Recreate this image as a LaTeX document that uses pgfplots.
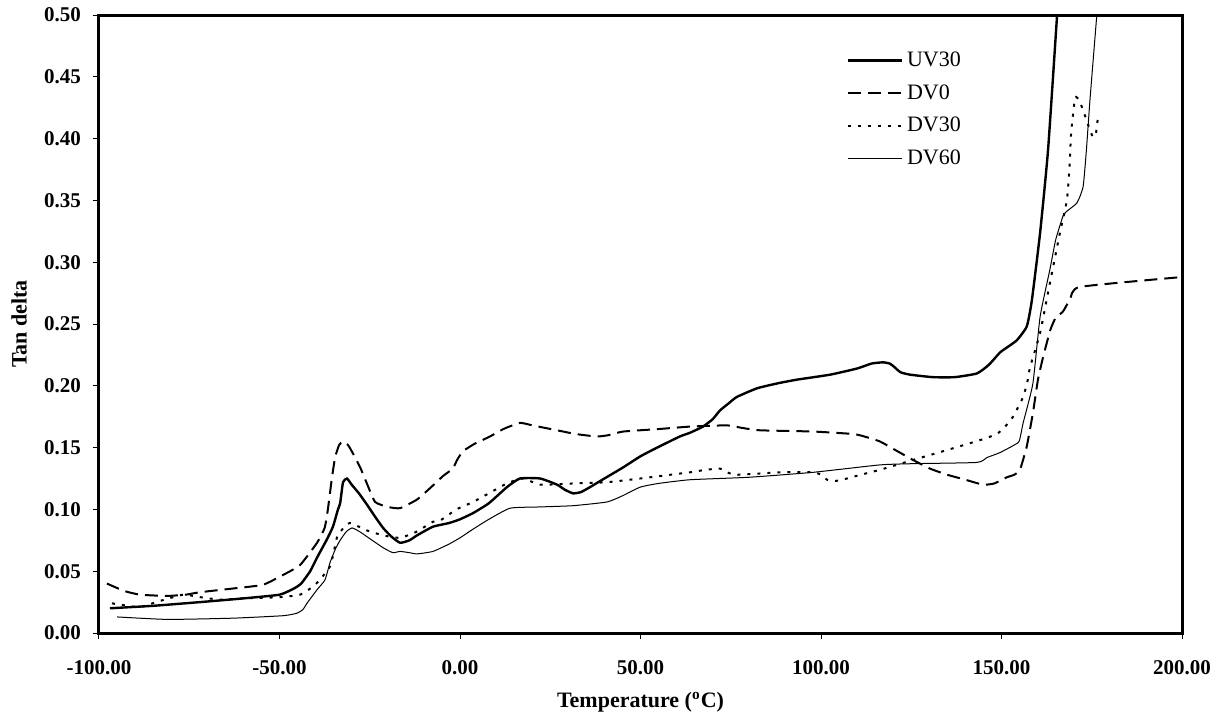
\documentclass[border=0pt]{standalone}
\usepackage{fontspec}
\setmainfont{Liberation Serif}
\usepackage{pgfplots}
\pgfplotsset{compat=1.18}
\begin{document}
\begin{tikzpicture}
\begin{axis}[
  scale only axis,
  width=541.5pt, height=309pt,
  xmin=-100, xmax=200, ymin=0, ymax=0.5,
  axis line style={line width=1.5pt},
  xtick={-100,-50,...,200},
  ytick={0,0.05,...,0.51},
  tick align=outside,
  major tick length=3pt,
  tick style={line width=0.5pt, black},
  xtick pos=bottom, ytick pos=left,
  /pgf/number format/assume math mode=true,
  /pgf/number format/.cd, fixed, fixed zerofill, precision=2, /pgfplots/.cd,
  ticklabel style={font=\fontsize{10.5}{12}\selectfont\bfseries},
  yticklabel style={/pgf/number format/.cd, fixed, fixed zerofill, precision=2, /tikz/xshift=-2.5pt},
  xticklabel style={/pgf/number format/.cd, fixed, fixed zerofill, precision=2, /tikz/yshift=-7pt},
  xlabel={Temperature (\textsuperscript{o}C)},
  ylabel={Tan delta},
  label style={font=\fontsize{11}{13}\selectfont\bfseries},
  xlabel style={at={(axis description cs:0.5,0)}, anchor=center, yshift=-34.5pt},
  ylabel style={at={(axis description cs:0,0.5)}, anchor=center, rotate=0, yshift=40pt},
  legend style={at={(0.69,0.948)}, anchor=north west, draw=none, fill=none,
    font=\fontsize{11}{13}\selectfont, row sep=3.6pt, inner sep=0pt},
  legend cell align=left,
  legend image code/.code={\draw[#1] (0pt,0pt) -- (27pt,0pt);},
]
\addplot[black, line width=1.2pt, smooth, tension=0.3] coordinates {
(-97,0.020)(-85,0.022)(-72,0.025)(-60,0.028)(-50,0.031)(-46,0.036)(-44,0.040)(-41.5,0.050)(-39.6,0.061)(-37,0.075)(-35.2,0.086)(-33.8,0.100)(-33.2,0.105)(-32.4,0.122)(-31.3,0.125)(-30,0.120)(-28,0.113)(-25.8,0.104)(-23.5,0.094)(-21.3,0.085)(-19,0.078)(-16.6,0.073)(-14,0.075)(-11.9,0.079)(-7.5,0.086)(-3,0.089)(0,0.092)(3.6,0.097)(8,0.105)(13,0.118)(16.6,0.125)(22.2,0.125)(26.9,0.120)(29,0.116)(31.3,0.113)(33.5,0.114)(36,0.118)(40,0.125)(45.2,0.134)(50,0.143)(54.6,0.150)(60.9,0.159)(63.7,0.162)(67.3,0.167)(70,0.173)(72,0.180)(74.5,0.186)(76.7,0.191)(82.3,0.198)(88,0.202)(93.4,0.205)(102.5,0.209)(110,0.214)(114,0.218)(117.2,0.219)(119,0.218)(120,0.216)(122,0.211)(124.7,0.209)(131,0.207)(137,0.207)(143.2,0.210)(146.5,0.217)(149.6,0.227)(152,0.232)(154.3,0.237)(157,0.248)(158.4,0.269)(160.7,0.324)(162.9,0.391)(165.4,0.50)
};
\addlegendentry{UV30}
\addplot[black, line width=1pt, dash pattern=on 6.5pt off 3.5pt, smooth, tension=0.3] coordinates {
(-97.8,0.040)(-93,0.034)(-88.6,0.031)(-81.2,0.030)(-76,0.031)(-72,0.033)(-62.9,0.036)(-54.6,0.039)(-49,0.047)(-44.3,0.055)(-39.6,0.073)(-37.5,0.085)(-36.6,0.100)(-35.5,0.125)(-34.6,0.142)(-33.5,0.152)(-32.4,0.155)(-31,0.152)(-29.6,0.145)(-27.5,0.133)(-25.8,0.121)(-23.5,0.106)(-20,0.102)(-16.6,0.101)(-11.9,0.108)(-8,0.118)(-4.7,0.127)(-2,0.133)(-0.8,0.140)(0.8,0.147)(4,0.153)(8.3,0.159)(12,0.165)(16.6,0.170)(20,0.168)(26.9,0.164)(32,0.161)(37.9,0.159)(41,0.160)(45.2,0.163)(55,0.165)(63.7,0.167)(74,0.168)(78,0.166)(83.1,0.164)(97.8,0.163)(108.9,0.161)(112,0.159)(116.3,0.155)(120,0.149)(125.5,0.140)(130.2,0.133)(135,0.128)(140,0.124)(144.9,0.120)(148,0.121)(151.5,0.126)(153.5,0.128)(155.1,0.132)(157,0.151)(158.7,0.178)(160.1,0.205)(161.5,0.223)(163.5,0.245)(165,0.255)(167,0.260)(169,0.270)(171.7,0.280)(200,0.288)
};
\addlegendentry{DV0}
\addplot[black, line width=1pt, dash pattern=on 1.5pt off 3.5pt, smooth, tension=0.3] coordinates {
(-96.4,0.024)(-92,0.022)(-88.6,0.021)(-83,0.026)(-76.7,0.031)(-72,0.029)(-66.5,0.027)(-60,0.028)(-49.9,0.029)(-44.3,0.031)(-41,0.037)(-38.8,0.043)(-36,0.054)(-35,0.065)(-34,0.078)(-32,0.086)(-30.5,0.089)(-28,0.086)(-25.8,0.083)(-21.3,0.079)(-16.6,0.077)(-12,0.082)(-7.5,0.090)(-5.5,0.091)(-1,0.100)(3.6,0.106)(8,0.113)(13,0.121)(17.5,0.125)(22.2,0.120)(31.3,0.121)(40.7,0.122)(49.9,0.125)(60.9,0.129)(63.7,0.130)(68,0.132)(72,0.133)(74,0.130)(76.7,0.128)(88.6,0.130)(97.8,0.130)(100,0.128)(101.7,0.124)(104,0.123)(107.2,0.125)(111,0.128)(116.3,0.132)(125.5,0.140)(134.9,0.148)(144,0.156)(148.7,0.161)(151,0.167)(153.2,0.175)(156,0.191)(157.3,0.205)(157.9,0.215)(160.7,0.243)(163.4,0.283)(166.2,0.324)(168.1,0.350)(168.8,0.375)(169.3,0.405)(170.4,0.433)(171.5,0.431)(172.6,0.423)(174.5,0.407)(175.4,0.401)(176.2,0.405)(176.7,0.417)
};
\addlegendentry{DV30}
\addplot[black, line width=0.5pt, smooth, tension=0.3] coordinates {
(-95,0.013)(-81,0.011)(-62.9,0.012)(-49,0.014)(-45.2,0.016)(-43.5,0.019)(-42.4,0.024)(-39.6,0.035)(-37.4,0.043)(-36,0.057)(-34.5,0.068)(-33.2,0.075)(-31.5,0.082)(-29.9,0.085)(-27.8,0.082)(-25.8,0.078)(-21.3,0.069)(-18.6,0.065)(-16.6,0.066)(-14,0.065)(-11.9,0.064)(-7.5,0.066)(-3,0.072)(0,0.077)(3.6,0.084)(8,0.092)(13.9,0.101)(22.2,0.102)(31.3,0.103)(40.7,0.106)(45,0.111)(49.9,0.118)(55,0.121)(63.7,0.124)(80,0.126)(97.8,0.130)(116.3,0.136)(125.5,0.137)(143.2,0.138)(146,0.142)(149.6,0.146)(154.6,0.154)(155.3,0.160)(156,0.170)(158.7,0.202)(160.7,0.256)(163.4,0.294)(165,0.318)(167,0.337)(168,0.341)(170.9,0.348)(172.6,0.361)(173.5,0.390)(174.5,0.431)(176.4,0.50)
};
\addlegendentry{DV60}
\end{axis}
\pgfresetboundingbox
\path (-49.5pt,-45.5pt) rectangle (561.5pt,316.5pt);
\end{tikzpicture}
\end{document}
